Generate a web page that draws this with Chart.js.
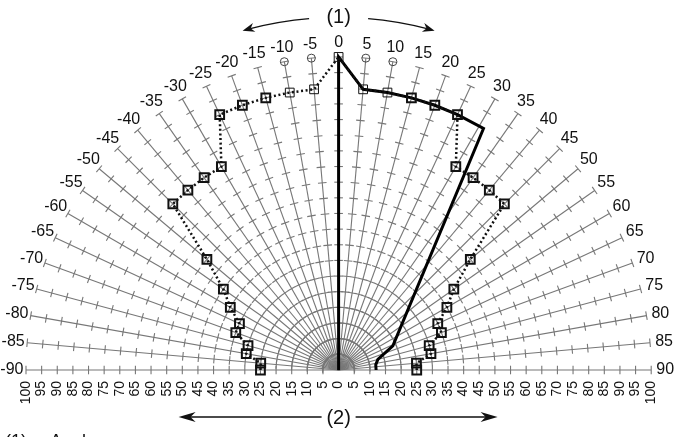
<!DOCTYPE html>
<html>
<head>
<meta charset="utf-8">
<script src="https://cdn.jsdelivr.net/npm/chart.js@4.4.1/dist/chart.umd.min.js"></script>
<style>
  html, body { margin: 0; padding: 0; background: #fff; overflow: hidden; }
  #wrap { width: 679px; height: 437px; position: relative; }
</style>
</head>
<body>
<div id="wrap"><canvas id="polarchart"></canvas></div>
<script>
// angles in degrees, 0 = straight up, negative to the left
const angleTicks = [-90, -85, -80, -75, -70, -65, -60, -55, -50, -45, -40, -35, -30, -25, -20, -15, -10, -5,
  0, 5, 10, 15, 20, 25, 30, 35, 40, 45, 50, 55, 60, 65, 70, 75, 80, 85, 90];
const radiusTicks = [5, 10, 15, 20, 25, 30, 35, 40, 45, 50, 55, 60, 65, 70, 75, 80, 85, 90, 95, 100];

// dotted series, one value per angle tick
const dottedR = [25, 25, 30, 30, 35, 35, 40, 45, 55, 75, 75, 75, 75, 90, 90, 90, 90, 90,
  100, 90, 90, 90, 90, 90, 75, 75, 75, 75, 55, 45, 40, 35, 35, 30, 30, 25, 25];

// solid outline
const solidAngles = [0, 0, 5, 10, 15, 20, 25, 31, 66, 75, 82, 90];
const solidR = [0, 100, 90, 90, 90, 90, 90, 90, 19, 13, 12, 12];

// open circles at the rim
const circleAngles = [-10, -5, 5, 10];
const circleR = [100, 100, 100, 100];

function toXY(a, r) {
  const t = a * Math.PI / 180;
  return { x: r * Math.sin(t), y: r * Math.cos(t) };
}

Chart.defaults.font.family = '"Liberation Sans", Arial, sans-serif';

const polarGrid = {
  id: 'polarGrid',
  beforeDatasetsDraw(chart) {
    const { ctx, scales: { x, y } } = chart;
    const cx = x.getPixelForValue(0), cy = y.getPixelForValue(0);
    ctx.save();
    ctx.strokeStyle = '#777';
    ctx.lineWidth = 1.1;
    angleTicks.forEach(a => {
      const t = a * Math.PI / 180, s = Math.sin(t), c = Math.cos(t);
      ctx.beginPath();
      ctx.moveTo(cx, cy);
      ctx.lineTo(x.getPixelForValue(100 * s), y.getPixelForValue(100 * c));
      ctx.stroke();
      radiusTicks.forEach(r => {
        const px = x.getPixelForValue(r * s), py = y.getPixelForValue(r * c);
        ctx.beginPath();
        ctx.moveTo(px - 4.3 * c, py - 4.3 * s);
        ctx.lineTo(px + 4.3 * c, py + 4.3 * s);
        ctx.stroke();
      });
    });
    // angle labels
    ctx.fillStyle = '#111';
    ctx.font = '16px "Liberation Sans", Arial, sans-serif';
    ctx.textAlign = 'center';
    ctx.textBaseline = 'middle';
    angleTicks.forEach(a => {
      const p = toXY(a, 104.5);
      ctx.fillText(String(a), x.getPixelForValue(p.x), y.getPixelForValue(p.y));
    });
    ctx.restore();
  },
  afterDraw(chart) {
    const { ctx, scales: { x, y } } = chart;
    const cx = x.getPixelForValue(0), cy = y.getPixelForValue(0);
    const ppu = x.getPixelForValue(1) - cx;
    const R = 112.8 * ppu;
    const rad = d => d * Math.PI / 180;

    function head(tx, ty, dx, dy, len, half) {
      const bx = tx - dx * len, by = ty - dy * len;
      ctx.beginPath();
      ctx.moveTo(tx, ty);
      ctx.lineTo(bx - dy * half, by + dx * half);
      ctx.lineTo(tx - dx * len * 0.7, ty - dy * len * 0.7);
      ctx.lineTo(bx + dy * half, by - dx * half);
      ctx.closePath();
      ctx.fill();
    }

    ctx.save();
    ctx.strokeStyle = '#111';
    ctx.fillStyle = '#111';
    ctx.lineWidth = 1.5;

    // top curved arrows
    ctx.beginPath();
    ctx.arc(cx, cy, R, rad(-94.8), rad(-104.5), true);
    ctx.stroke();
    let a = rad(-15.8);
    head(cx + R * Math.sin(a), cy - R * Math.cos(a), -Math.cos(a), -Math.sin(a), 12, 4.5);
    ctx.beginPath();
    ctx.arc(cx, cy, R, rad(-85.2), rad(-75.5), false);
    ctx.stroke();
    a = rad(15.8);
    head(cx + R * Math.sin(a), cy - R * Math.cos(a), Math.cos(a), Math.sin(a), 12, 4.5);

    // bottom straight arrows
    const ly = cy + 47;
    ctx.beginPath();
    ctx.moveTo(cx - 17, ly); ctx.lineTo(cx - 150, ly);
    ctx.moveTo(cx + 17, ly); ctx.lineTo(cx + 150, ly);
    ctx.stroke();
    head(cx - 160, ly, -1, 0, 17, 5);
    head(cx + 159, ly, 1, 0, 17, 5);

    ctx.textAlign = 'center';
    ctx.textBaseline = 'middle';
    ctx.font = '20px "Liberation Sans", Arial, sans-serif';
    ctx.fillText('(1)', cx, 17);
    ctx.fillText('(2)', cx, ly + 1);

    ctx.textAlign = 'left';
    ctx.textBaseline = 'alphabetic';
    ctx.font = '18px "Liberation Sans", Arial, sans-serif';
    ctx.fillText('(1)', 5, 447);
    ctx.fillText('Angle', 50, 447);
    ctx.restore();
  }
};

new Chart(document.getElementById('polarchart'), {
  type: 'scatter',
  data: {
    datasets: [{
      label: 'dotted',
      data: angleTicks.map((a, i) => toXY(a, dottedR[i])),
      showLine: true,
      borderColor: '#111',
      borderWidth: 2.5,
      borderDash: [2, 2.6],
      pointStyle: 'rect',
      pointRadius: 6.2,
      pointBorderColor: '#111',
      pointBackgroundColor: 'rgba(0,0,0,0)',
      pointBorderWidth: ctx => (Math.abs(angleTicks[ctx.dataIndex]) <= 10 ? 1 : 2),
      clip: false
    }, {
      label: 'solid',
      data: solidAngles.map((a, i) => toXY(a, solidR[i])),
      showLine: true,
      borderColor: '#000',
      borderWidth: 3,
      borderJoinStyle: 'miter',
      pointRadius: 0,
      clip: false
    }, {
      label: 'rim',
      data: circleAngles.map((a, i) => toXY(a, circleR[i])),
      showLine: false,
      pointStyle: 'circle',
      pointRadius: 4,
      pointBorderWidth: 1,
      pointBorderColor: '#444',
      pointBackgroundColor: 'rgba(0,0,0,0)',
      clip: false
    }]
  },
  options: {
    responsive: true,
    maintainAspectRatio: false,
    animation: false,
    layout: { padding: { left: 26, right: 27, top: 10, bottom: 0 } },
    plugins: { legend: { display: false }, tooltip: { enabled: false } },
    scales: {
      x: {
        type: 'linear',
        min: -100,
        max: 100,
        afterFit(scale) { scale.height = 67; },
        grid: { display: false, drawTicks: false },
        border: { display: false },
        ticks: {
          stepSize: 5,
          autoSkip: false,
          minRotation: 90,
          maxRotation: 90,
          padding: 11,
          color: '#111',
          font: { size: 14 },
          callback: v => Math.abs(v)
        }
      },
      y: {
        type: 'linear',
        min: 0,
        max: 115,
        display: false
      }
    }
  },
  plugins: [polarGrid]
});
</script>
</body>
</html>
